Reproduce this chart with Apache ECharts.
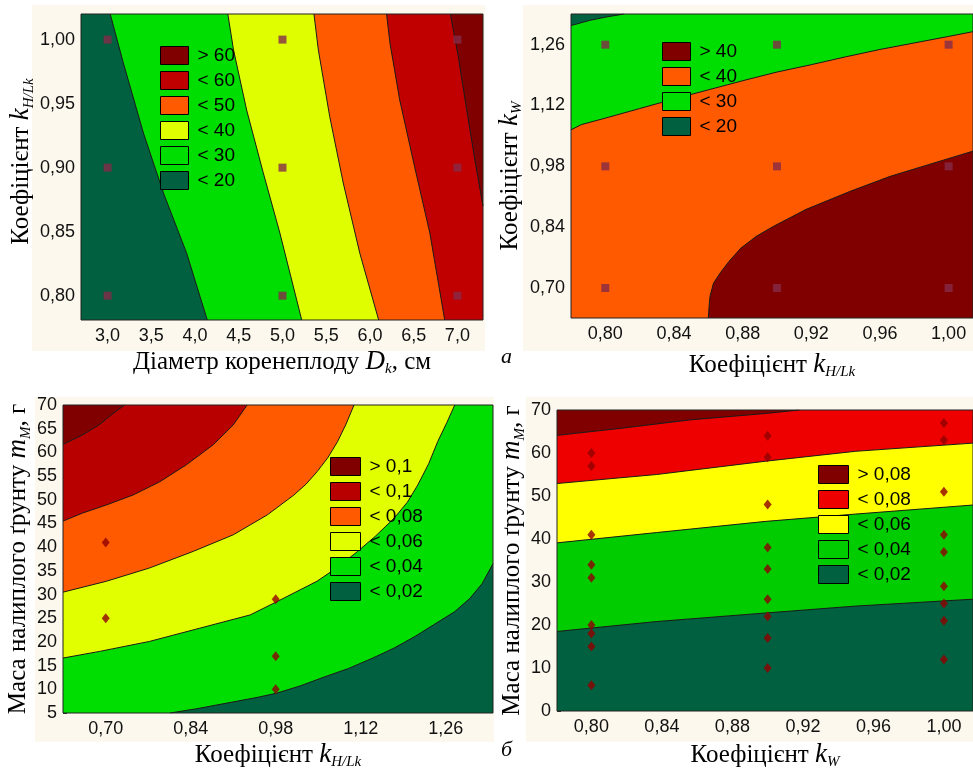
<!DOCTYPE html>
<html>
<head>
<meta charset="utf-8">
<title>Contour plots</title>
<script src="https://cdn.jsdelivr.net/npm/echarts@6/dist/echarts.min.js"></script>
<style>
  html, body { margin: 0; padding: 0; background: #fff; }
  #chart { width: 973px; height: 771px; }
</style>
</head>
<body>
<div id="chart"></div>
<script>
// ---------- panel a, left: D_k vs k_H/Lk ----------
var a1XRange = [2.696, 7.293];
var a1YRange = [0.781, 1.020];
var a1XTicks = [3.0, 3.5, 4.0, 4.5, 5.0, 5.5, 6.0, 6.5, 7.0];
var a1YTicks = [0.80, 0.85, 0.90, 0.95, 1.00];
var a1Names = ['> 60', '< 60', '< 50', '< 40', '< 30', '< 20'];
// contour lines, top -> bottom, [D_k, k]
var a1Edge20 = [[3.03, 1.020], [3.175, 0.983], [3.41, 0.927], [3.64, 0.880], [3.905, 0.833], [4.14, 0.781]];
var a1Edge30 = [[4.375, 1.020], [4.44, 0.992], [4.59, 0.945], [4.78, 0.896], [4.97, 0.849], [5.22, 0.781]];
var a1Edge40 = [[5.36, 1.020], [5.41, 0.992], [5.54, 0.940], [5.695, 0.888], [5.885, 0.833], [6.10, 0.781]];
var a1Edge50 = [[6.19, 1.020], [6.23, 0.997], [6.34, 0.953], [6.51, 0.901], [6.685, 0.849], [6.855, 0.781]];
var a1Edge60 = [[6.92, 1.020], [7.01, 0.987], [7.10, 0.948], [7.20, 0.906], [7.293, 0.870]];
var a1Points = [[3, 1.0], [3, 0.9], [3, 0.8], [5, 1.0], [5, 0.9], [5, 0.8], [7, 1.0], [7, 0.9], [7, 0.8]];

// ---------- panel a, right: k_H/Lk vs k_W ----------
var a2XRange = [0.780, 1.0142];
var a2YRange = [0.631, 1.3306];
var a2XTicks = [0.80, 0.84, 0.88, 0.92, 0.96, 1.00];
var a2YTicks = [0.70, 0.84, 0.98, 1.12, 1.26];
var a2Names = ['> 40', '< 40', '< 30', '< 20'];
var a2Edge20 = [[0.780, 1.304], [0.791, 1.316], [0.801, 1.324], [0.811, 1.3306]];
var a2Edge30 = [[0.780, 1.064], [0.786, 1.076], [0.80, 1.091], [0.82, 1.113], [0.84, 1.135], [0.86, 1.156],
  [0.88, 1.177], [0.90, 1.197], [0.92, 1.214], [0.94, 1.232], [0.96, 1.249], [0.98, 1.264], [1.00, 1.279], [1.0142, 1.290]];
var a2Edge40 = [[0.860, 0.631], [0.8605, 0.660], [0.861, 0.681], [0.863, 0.711], [0.867, 0.735], [0.872, 0.761],
  [0.879, 0.792], [0.888, 0.819], [0.898, 0.842], [0.917, 0.881], [0.943, 0.923], [0.966, 0.957], [0.995, 0.992], [1.0142, 1.015]];
var a2Points = [[0.8, 1.26], [0.8, 0.98], [0.8, 0.70], [0.9, 1.26], [0.9, 0.98], [0.9, 0.70], [1.0, 1.26], [1.0, 0.98], [1.0, 0.70]];

// ---------- panel b, left: k_H/Lk vs m_M ----------
var b1XRange = [0.6296, 1.338];
var b1YRange = [5, 70];
var b1XTicks = [0.70, 0.84, 0.98, 1.12, 1.26];
var b1YTicks = [5, 10, 15, 20, 25, 30, 35, 40, 45, 50, 55, 60, 65, 70];
var b1Names = ['> 0,1', '< 0,1', '< 0,08', '< 0,06', '< 0,04', '< 0,02'];
var b1Edge10 = [[0.6296, 61.7], [0.662, 63.7], [0.690, 65.9], [0.712, 68.2], [0.731, 70]];
var b1Edge08 = [[0.6296, 45.5], [0.662, 47.2], [0.701, 48.9], [0.745, 51.0], [0.789, 53.8], [0.833, 57.4], [0.877, 61.6], [0.910, 65.8], [0.933, 70]];
var b1Edge06 = [[0.6296, 30.5], [0.701, 32.8], [0.772, 35.6], [0.844, 39.1], [0.910, 42.6], [0.966, 46.8], [1.010, 51.0],
  [1.030, 53.3], [1.048, 55.9], [1.066, 58.9], [1.082, 62.3], [1.096, 66.0], [1.109, 70]];
var b1Edge04 = [[0.6296, 16.6], [0.690, 18.0], [0.772, 20.1], [0.855, 22.9], [0.938, 25.7], [0.982, 28.5], [1.048, 32.8],
  [1.080, 35.6], [1.115, 39.1], [1.145, 42.4], [1.175, 46.1], [1.197, 49.5], [1.214, 53.1], [1.232, 57.6], [1.247, 62.3], [1.262, 66.3], [1.275, 70]];
var b1Edge02 = [[0.806, 5], [0.850, 5.9], [0.900, 7.1], [0.950, 8.3], [0.982, 9.2], [1.020, 10.7], [1.060, 12.6], [1.100, 14.4],
  [1.140, 16.6], [1.175, 18.7], [1.210, 21.2], [1.240, 23.6], [1.275, 26.4], [1.300, 29.2], [1.320, 32.3], [1.338, 36.5]];
var b1Points = [[0.70, 41], [0.70, 25], [0.98, 29], [0.98, 17], [0.98, 10]];

// ---------- panel b, right: k_W vs m_M ----------
var b2XRange = [0.7805, 1.0165];
var b2YRange = [0, 70];
var b2XTicks = [0.80, 0.84, 0.88, 0.92, 0.96, 1.00];
var b2YTicks = [0, 10, 20, 30, 40, 50, 60, 70];
var b2Names = ['> 0,08', '< 0,08', '< 0,06', '< 0,04', '< 0,02'];
var b2Edge08 = [[0.7805, 64.1], [0.818, 65.8], [0.856, 67.7], [0.899, 69.2], [0.918, 70]];
var b2Edge06 = [[0.7805, 52.9], [0.837, 55.0], [0.899, 58.1], [0.950, 60.4], [1.0165, 62.3]];
var b2Edge04 = [[0.7805, 39.1], [0.837, 41.5], [0.899, 44.1], [0.950, 45.8], [1.0165, 47.9]];
var b2Edge02 = [[0.7805, 18.5], [0.837, 20.8], [0.899, 22.8], [0.950, 24.4], [1.0165, 26.0]];
var b2Points = [
  [0.8, 60], [0.8, 57], [0.8, 41], [0.8, 34], [0.8, 31], [0.8, 20], [0.8, 18], [0.8, 15], [0.8, 6],
  [0.9, 64], [0.9, 59], [0.9, 48], [0.9, 38], [0.9, 33], [0.9, 26], [0.9, 22], [0.9, 17], [0.9, 10],
  [1.0, 67], [1.0, 63], [1.0, 51], [1.0, 41], [1.0, 37], [1.0, 29], [1.0, 25], [1.0, 21], [1.0, 12]
];

var darkRed = '#800000', orange = '#ff5a00', green = '#00dd00', darkGreen = '#00603f';
var cream = '#fcf8ed';

var nameStyle = {
  fontFamily: 'Liberation Serif', fontSize: 25, color: '#000', lineHeight: 30,
  rich: {
    i: {fontFamily: 'Liberation Serif', fontStyle: 'italic', fontSize: 27, color: '#000', lineHeight: 30},
    s: {fontFamily: 'Liberation Serif', fontStyle: 'italic', fontSize: 15, color: '#000', lineHeight: 30, verticalAlign: 'bottom'}
  }
};

function fmt(d) {
  return function (v) { return Number(v).toFixed(d).replace('.', ','); };
}

function makeAxis(dim, idx, range, ticks, digits, name, gap, pad) {
  var ts = Object.assign({}, nameStyle);
  if (pad) ts.padding = pad;
  return {
    type: 'value', gridIndex: idx, min: range[0], max: range[1],
    name: name, nameLocation: 'middle', nameGap: gap, nameTextStyle: ts,
    axisLine: {show: false},
    axisTick: {show: true, inside: true, length: 4, customValues: ticks, lineStyle: {color: '#333'}},
    axisLabel: {
      customValues: ticks, formatter: fmt(digits), color: '#111',
      fontFamily: 'Liberation Sans', fontSize: 18, margin: dim === 'x' ? 7 : 6
    },
    splitLine: {show: false}
  };
}

// filled contour band, drawn as one polygon in data coordinates
function fillSeries(idx, name, color, pts) {
  return {
    type: 'custom', name: idx + '|' + name,
    xAxisIndex: idx, yAxisIndex: idx,
    data: pts, encode: {x: 0, y: 1},
    itemStyle: {color: color},
    clip: true, silent: true, z: 2,
    renderItem: function (params, api) {
      if (params.dataIndex !== 0) return;
      return {
        type: 'polygon',
        shape: {points: pts.map(function (p) { return api.coord(p); })},
        style: {fill: color}
      };
    }
  };
}

function edgeSeries(idx, pts) {
  return {
    type: 'line', xAxisIndex: idx, yAxisIndex: idx, data: pts,
    symbol: 'none', lineStyle: {color: '#1a1a1a', width: 1}, silent: true, z: 3
  };
}

function pointSeries(idx, pts, symbol, size, color) {
  return {
    type: 'scatter', xAxisIndex: idx, yAxisIndex: idx, data: pts,
    symbol: symbol, symbolSize: size, itemStyle: {color: color}, silent: true, z: 4
  };
}

function frameSeries(idx) {
  return {
    type: 'custom', xAxisIndex: idx, yAxisIndex: idx, data: [0], silent: true, z: 5,
    renderItem: function (params) {
      var c = params.coordSys;
      return {type: 'rect', shape: {x: c.x, y: c.y, width: c.width, height: c.height},
        style: {fill: null, stroke: '#222', lineWidth: 1}};
    }
  };
}

function makeLegend(idx, names, left, top, w) {
  return {
    left: left, top: top, orient: 'vertical', padding: 0, itemGap: 6,
    itemWidth: w, itemHeight: 18, icon: 'rect', selectedMode: false,
    itemStyle: {borderColor: '#000', borderWidth: 1},
    textStyle: {color: '#000', fontFamily: 'Liberation Sans', fontSize: 19, lineHeight: 18, padding: [0, 0, 0, 4]},
    formatter: function (n) { return n.split('|')[1]; },
    data: names.map(function (n) { return idx + '|' + n; })
  };
}

function full(xr, yr) {
  return [[xr[0], yr[0]], [xr[1], yr[0]], [xr[1], yr[1]], [xr[0], yr[1]]];
}

var kHL = 'Коефіцієнт {i|k}{s|H/Lk}';
var kW = 'Коефіцієнт {i|k}{s|W}';
var mM = 'Маса налиплого ґрунту {i|m}{s|M}, г';

var series = [
  // panel 0
  fillSeries(0, '< 20', darkGreen, full(a1XRange, a1YRange)),
  fillSeries(0, '< 30', green, a1Edge20.concat([[a1XRange[1], a1YRange[0]], [a1XRange[1], a1YRange[1]]])),
  fillSeries(0, '< 40', '#dfff00', a1Edge30.concat([[a1XRange[1], a1YRange[0]], [a1XRange[1], a1YRange[1]]])),
  fillSeries(0, '< 50', orange, a1Edge40.concat([[a1XRange[1], a1YRange[0]], [a1XRange[1], a1YRange[1]]])),
  fillSeries(0, '< 60', '#c00000', a1Edge50.concat([[a1XRange[1], a1YRange[0]], [a1XRange[1], a1YRange[1]]])),
  fillSeries(0, '> 60', darkRed, a1Edge60.concat([[a1XRange[1], a1YRange[1]]])),
  edgeSeries(0, a1Edge20), edgeSeries(0, a1Edge30), edgeSeries(0, a1Edge40), edgeSeries(0, a1Edge50), edgeSeries(0, a1Edge60),
  pointSeries(0, a1Points, 'rect', 8, '#852a48'),
  frameSeries(0),
  // panel 1
  fillSeries(1, '< 40', orange, full(a2XRange, a2YRange)),
  fillSeries(1, '< 30', green, a2Edge30.concat([[a2XRange[1], a2YRange[1]], [a2XRange[0], a2YRange[1]]])),
  fillSeries(1, '< 20', darkGreen, a2Edge20.concat([[a2XRange[0], a2YRange[1]]])),
  fillSeries(1, '> 40', darkRed, a2Edge40.concat([[a2XRange[1], a2YRange[0]]])),
  edgeSeries(1, a2Edge20), edgeSeries(1, a2Edge30), edgeSeries(1, a2Edge40),
  pointSeries(1, a2Points, 'rect', 8, '#852a48'),
  frameSeries(1),
  // panel 2
  fillSeries(2, '> 0,1', darkRed, full(b1XRange, b1YRange)),
  fillSeries(2, '< 0,1', '#b80000', b1Edge10.concat([[b1XRange[1], b1YRange[1]], [b1XRange[1], b1YRange[0]], [b1XRange[0], b1YRange[0]]])),
  fillSeries(2, '< 0,08', orange, b1Edge08.concat([[b1XRange[1], b1YRange[1]], [b1XRange[1], b1YRange[0]], [b1XRange[0], b1YRange[0]]])),
  fillSeries(2, '< 0,06', '#e2ff00', b1Edge06.concat([[b1XRange[1], b1YRange[1]], [b1XRange[1], b1YRange[0]], [b1XRange[0], b1YRange[0]]])),
  fillSeries(2, '< 0,04', green, b1Edge04.concat([[b1XRange[1], b1YRange[1]], [b1XRange[1], b1YRange[0]], [b1XRange[0], b1YRange[0]]])),
  fillSeries(2, '< 0,02', darkGreen, b1Edge02.concat([[b1XRange[1], b1YRange[0]]])),
  edgeSeries(2, b1Edge10), edgeSeries(2, b1Edge08), edgeSeries(2, b1Edge06), edgeSeries(2, b1Edge04), edgeSeries(2, b1Edge02),
  pointSeries(2, b1Points, 'diamond', [8, 10], '#900000'),
  frameSeries(2),
  // panel 3
  fillSeries(3, '> 0,08', darkRed, full(b2XRange, b2YRange)),
  fillSeries(3, '< 0,08', '#ee0000', b2Edge08.concat([[b2XRange[1], b2YRange[1]], [b2XRange[1], b2YRange[0]], [b2XRange[0], b2YRange[0]]])),
  fillSeries(3, '< 0,06', '#ffff00', b2Edge06.concat([[b2XRange[1], b2YRange[0]], [b2XRange[0], b2YRange[0]]])),
  fillSeries(3, '< 0,04', '#00cc00', b2Edge04.concat([[b2XRange[1], b2YRange[0]], [b2XRange[0], b2YRange[0]]])),
  fillSeries(3, '< 0,02', darkGreen, b2Edge02.concat([[b2XRange[1], b2YRange[0]], [b2XRange[0], b2YRange[0]]])),
  edgeSeries(3, b2Edge08), edgeSeries(3, b2Edge06), edgeSeries(3, b2Edge04), edgeSeries(3, b2Edge02),
  pointSeries(3, b2Points, 'diamond', [8, 10], '#900000'),
  frameSeries(3)
];

var option = {
  animation: false,
  backgroundColor: '#fff',
  grid: [
    {left: 81, top: 14, width: 402, height: 306},
    {left: 571, top: 14, width: 402, height: 304},
    {left: 63, top: 405, width: 430, height: 308},
    {left: 557, top: 410, width: 416, height: 303}
  ],
  xAxis: [
    makeAxis('x', 0, a1XRange, a1XTicks, 1, 'Діаметр коренеплоду {i|D}{s|k}, см', 27),
    makeAxis('x', 1, a2XRange, a2XTicks, 2, kHL, 32),
    makeAxis('x', 2, b1XRange, b1XTicks, 2, kHL, 27),
    makeAxis('x', 3, b2XRange, b2XTicks, 2, kW, 29)
  ],
  yAxis: [
    makeAxis('y', 0, a1YRange, a1YTicks, 2, kHL, 41, [0, 0, 0, 11]),
    makeAxis('y', 1, a2YRange, a2YTicks, 2, kW, 46, [0, 20, 0, 0]),
    makeAxis('y', 2, b1YRange, b1YTicks, 0, mM, 26),
    makeAxis('y', 3, b2YRange, b2YTicks, 0, mM, 29)
  ],
  legend: [
    makeLegend(0, a1Names, 160, 46, 28),
    makeLegend(1, a2Names, 662, 42, 28),
    makeLegend(2, b1Names, 330, 457, 30),
    makeLegend(3, b2Names, 818, 465, 30)
  ],
  graphic: [
    {type: 'rect', z: -10, shape: {x: 32, y: 5, width: 453, height: 346}, style: {fill: cream}},
    {type: 'rect', z: -10, shape: {x: 523, y: 5, width: 450, height: 346}, style: {fill: cream}},
    {type: 'rect', z: -10, shape: {x: 35, y: 397, width: 459, height: 345}, style: {fill: cream}},
    {type: 'rect', z: -10, shape: {x: 526, y: 397, width: 447, height: 345}, style: {fill: cream}},
    {type: 'text', z: 10, left: 501, top: 346, style: {text: 'а', font: 'italic 22px "Liberation Serif"', fill: '#000'}},
    {type: 'text', z: 10, left: 501, top: 739, style: {text: 'б', font: 'italic 22px "Liberation Serif"', fill: '#000'}}
  ],
  series: series
};

var myChart = echarts.init(document.getElementById('chart'));
myChart.setOption(option);
</script>
</body>
</html>
